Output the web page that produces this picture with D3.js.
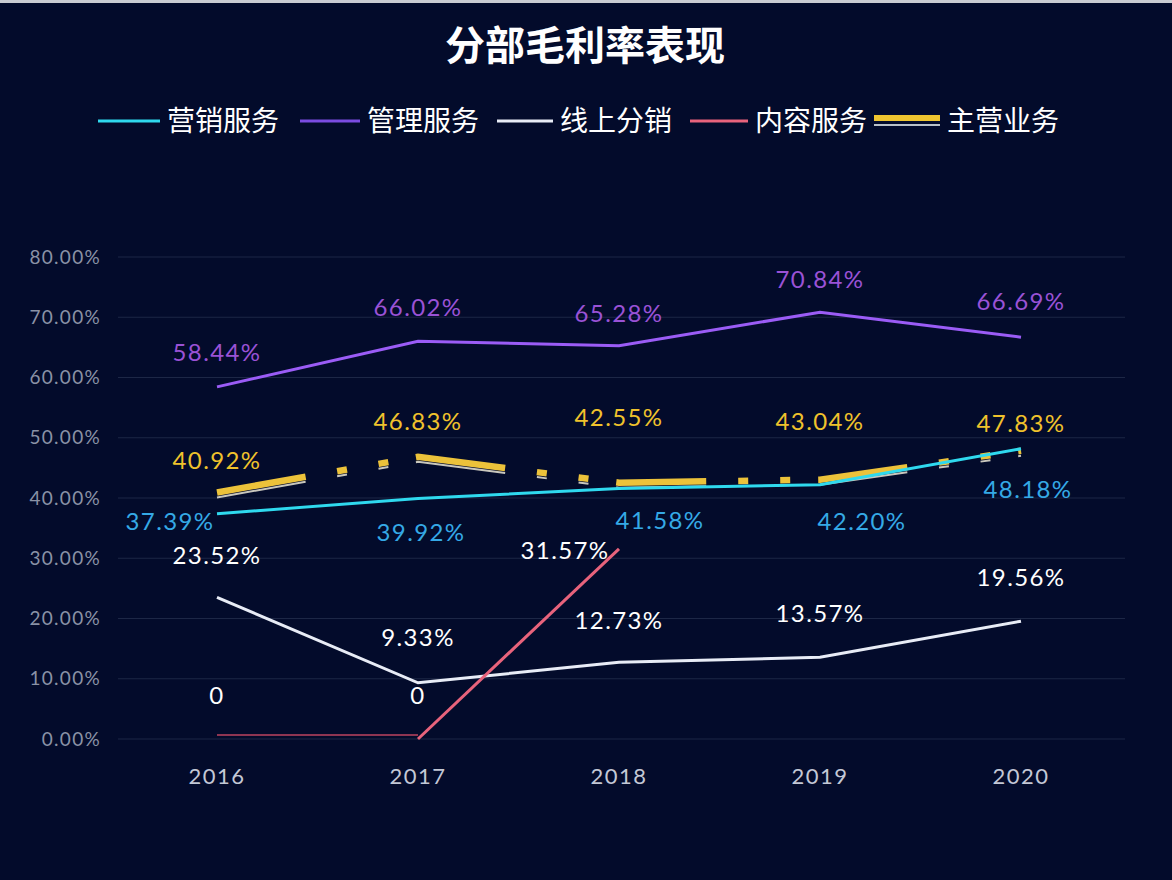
<!DOCTYPE html>
<html>
<head>
<meta charset="utf-8">
<script src="https://cdn.jsdelivr.net/npm/d3@7"></script>
<style>
  html, body { margin: 0; padding: 0; background: #030b2b; }
  svg { display: block; }
</style>
</head>
<body>
<svg id="chart" width="1172" height="880"></svg>
<script>
// ---------- data ----------
const title = "分部毛利率表现";
const years = ["2016", "2017", "2018", "2019", "2020"];
const yTicks = [0, 0.1, 0.2, 0.3, 0.4, 0.5, 0.6, 0.7, 0.8];
const marketing = [0.3739, 0.3992, 0.4158, 0.4220, 0.4818];      // 营销服务
const management = [0.5844, 0.6602, 0.6528, 0.7084, 0.6669];     // 管理服务
const onlineDist = [0.2352, 0.0933, 0.1273, 0.1357, 0.1956];     // 线上分销
const contentSvc = [0, 0, 0.3157];                               // 内容服务
const mainBiz = [0.4092, 0.4683, 0.4255, 0.4304, 0.4783];        // 主营业务
const seriesNames = ["营销服务", "管理服务", "线上分销", "内容服务", "主营业务"];

// ---------- layout / style ----------
const W = 1172, H = 880;
const svg = d3.select("#chart");
const x = d3.scalePoint().domain(years).range([217, 1021]);
const y = d3.scaleLinear().domain([0, 0.8]).range([739, 257]);
const numFont = "Lato, 'Open Sans', sans-serif";
const cjkFont = "'Noto Sans CJK SC', 'Noto Sans', sans-serif";
const fmt = v => v === 0 ? "0" : (v * 100).toFixed(2) + "%";

svg.append("rect").attr("width", W).attr("height", H).attr("fill", "#030b2b");
svg.append("rect").attr("width", W).attr("height", 3).attr("fill", "#c9ccd2");

// title
svg.append("text").attr("x", 585).attr("y", 60).attr("text-anchor", "middle")
  .attr("font-family", cjkFont).attr("font-weight", "bold").attr("font-size", 40)
  .attr("fill", "#ffffff").text(title);

// grid + y axis
const gridG = svg.append("g");
gridG.selectAll("line").data(yTicks).join("line")
  .attr("x1", 118).attr("x2", 1125)
  .attr("y1", d => y(d)).attr("y2", d => y(d))
  .attr("stroke", "#1d2746").attr("stroke-width", 1);
gridG.selectAll("text").data(yTicks).join("text")
  .attr("x", 101).attr("y", d => y(d)).attr("dy", "0.35em")
  .attr("text-anchor", "end").attr("font-family", numFont).attr("font-size", 19)
  .attr("letter-spacing", 1.3).attr("fill", "#8a92a6")
  .text(d => (d * 100).toFixed(2) + "%");

// x axis labels
svg.append("g").selectAll("text").data(years).join("text")
  .attr("x", d => x(d)).attr("y", 776).attr("dy", "0.35em")
  .attr("text-anchor", "middle").attr("font-family", numFont).attr("font-size", 22)
  .attr("letter-spacing", 1.5).attr("fill", "#c3c8d6").text(d => d);

const line = d3.line().x(d => x(d.year)).y(d => y(d.v));
const pts = arr => arr.map((v, i) => ({ year: years[i], v }));

// 主营业务 (long-dash-dot-dot pattern)
const dash = "90,32,10,32,10,28";
svg.append("path").datum(pts(mainBiz)).attr("d", line)
  .attr("transform", "translate(0,5)")
  .attr("fill", "none").attr("stroke", "#c9c7bd").attr("stroke-width", 2)
  .attr("stroke-dasharray", dash);
svg.append("path").datum(pts(mainBiz)).attr("d", line)
  .attr("fill", "none").attr("stroke", "#ecc23a").attr("stroke-width", 6.5)
  .attr("stroke-dasharray", dash);

// 营销服务
svg.append("path").datum(pts(marketing)).attr("d", line)
  .attr("fill", "none").attr("stroke", "#2fd9ee").attr("stroke-width", 3);
// 管理服务
svg.append("path").datum(pts(management)).attr("d", line)
  .attr("fill", "none").attr("stroke", "#9b5cf6").attr("stroke-width", 3);
// 线上分销
svg.append("path").datum(pts(onlineDist)).attr("d", line)
  .attr("fill", "none").attr("stroke", "#e8ecf6").attr("stroke-width", 3);
// 内容服务 (segment-wise: flat zero part dim, drawn just above the axis line)
const cp = pts(contentSvc);
for (let i = 0; i < cp.length - 1; i++) {
  const flat = cp[i].v === 0 && cp[i + 1].v === 0;
  svg.append("path").datum([cp[i], cp[i + 1]]).attr("d", line)
    .attr("transform", flat ? "translate(0,-4)" : null)
    .attr("fill", "none")
    .attr("stroke", flat ? "#8e3552" : "#e8637c")
    .attr("stroke-width", flat ? 2 : 3);
}

// data labels
function labels(arr, color, offs) {
  svg.append("g").selectAll("text").data(pts(arr)).join("text")
    .attr("x", (d, i) => x(d.year) + offs[i][0])
    .attr("y", (d, i) => y(d.v) + offs[i][1])
    .attr("dy", "0.35em").attr("text-anchor", "middle")
    .attr("font-family", numFont).attr("font-size", 24).attr("letter-spacing", 1.4)
    .attr("fill", color).text(d => fmt(d.v));
}
labels(management, "#9a52d6", [[0, -34], [0, -34], [0, -32], [0, -33], [0, -36]]);
labels(mainBiz, "#f0c22c", [[0, -32], [0, -35], [0, -65], [0, -58], [0, -27]]);
labels(marketing, "#35a9e6", [[-47, 8], [3, 34], [41, 32], [42, 37], [7, 41]]);
labels(onlineDist, "#ffffff", [[0, -42], [0, -45], [0, -42], [0, -44], [0, -44]]);
labels(contentSvc, "#ffffff", [[0, -43], [0, -43], [-54, 2]]);

// legend
const legendColors = ["#2fd9ee", "#7b4ce0", "#e8ecf6", "#e8637c", "#efc530"];
const legendX = [98, 300, 497, 690, 874];
const legendSwatchW = [62, 60, 56, 58, 66];
const lg = svg.append("g");
seriesNames.forEach((name, i) => {
  const x0 = legendX[i], w = legendSwatchW[i], ly = 121;
  if (i === 4) {
    lg.append("line").attr("x1", x0).attr("x2", x0 + w).attr("y1", ly - 3).attr("y2", ly - 3)
      .attr("stroke", "#efc530").attr("stroke-width", 6);
    lg.append("line").attr("x1", x0).attr("x2", x0 + w).attr("y1", ly + 4).attr("y2", ly + 4)
      .attr("stroke", "#b9c0c8").attr("stroke-width", 2);
  } else {
    lg.append("line").attr("x1", x0).attr("x2", x0 + w).attr("y1", ly).attr("y2", ly)
      .attr("stroke", legendColors[i]).attr("stroke-width", 3);
  }
  lg.append("text").attr("x", x0 + w + 7).attr("y", ly).attr("dy", "0.36em")
    .attr("font-family", cjkFont).attr("font-size", 28).attr("fill", "#ffffff").text(name);
});
</script>
</body>
</html>
